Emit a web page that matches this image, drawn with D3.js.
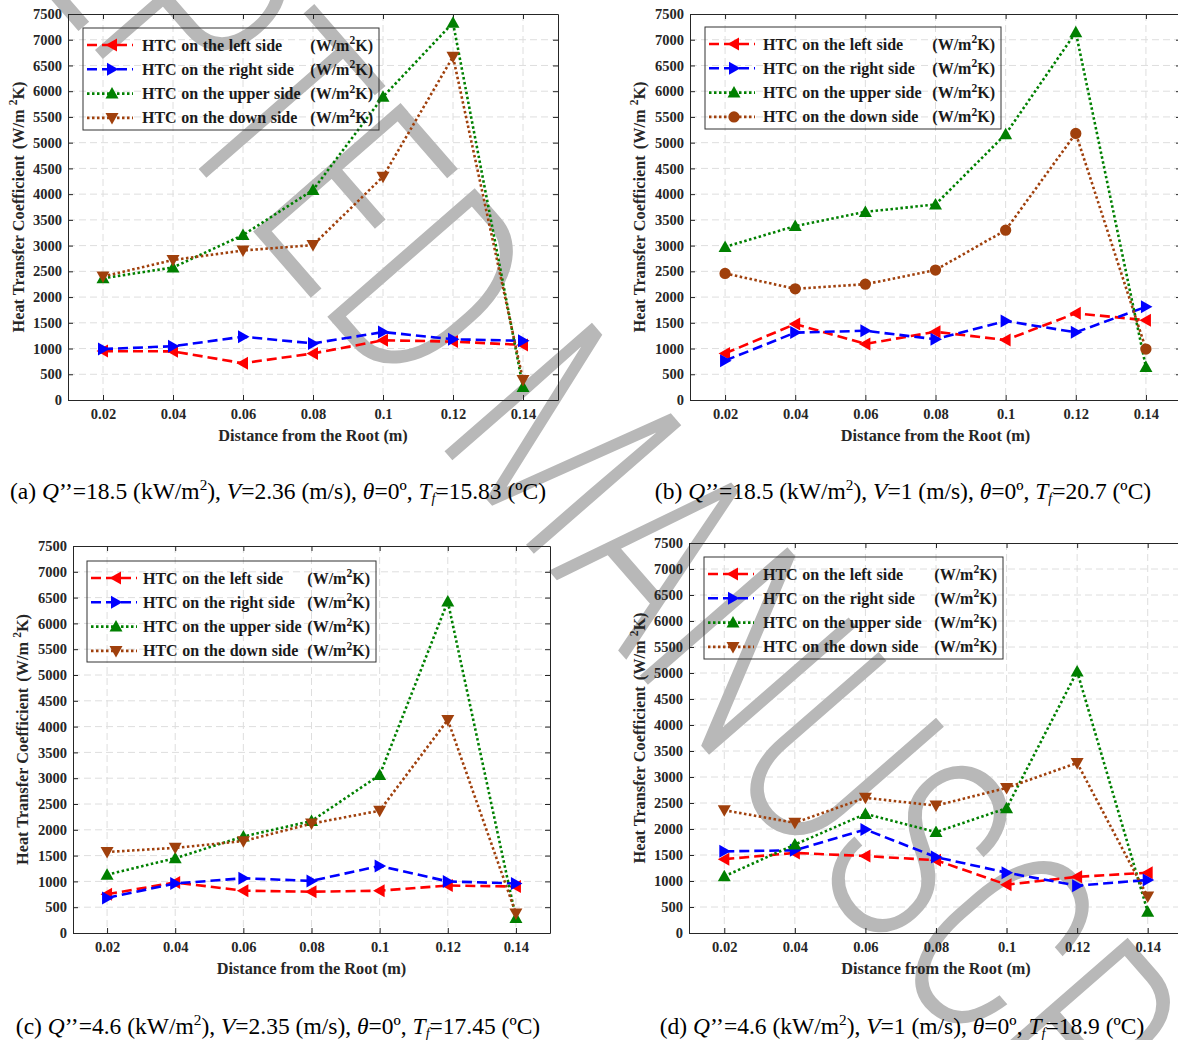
<!DOCTYPE html>
<html>
<head>
<meta charset="utf-8">
<script src="https://cdn.jsdelivr.net/npm/d3@7"></script>
<style>
body { margin: 0; background: #fff; }
text { font-family: "Liberation Serif", "Times New Roman", serif; }
</style>
</head>
<body>
<svg id="fig" width="1178" height="1040"></svg>
<script>
// distances along the fin (m) and tick labels
var distances = [0.02, 0.04, 0.06, 0.08, 0.1, 0.12, 0.14];
var xTickLabels = ["0.02", "0.04", "0.06", "0.08", "0.1", "0.12", "0.14"];
var yTickValues = [0, 500, 1000, 1500, 2000, 2500, 3000, 3500, 4000, 4500, 5000, 5500, 6000, 6500, 7000, 7500];
var seriesNames = ["HTC on the left side", "HTC on the right side", "HTC on the upper side", "HTC on the down side"];

// (a) Q''=18.5, V=2.36
var aLeft  = [950, 945, 715, 905, 1160, 1135, 1070];
var aRight = [990, 1045, 1230, 1100, 1320, 1180, 1150];
var aUpper = [2365, 2575, 3205, 4080, 5890, 7330, 255];
var aDown  = [2400, 2720, 2905, 3010, 4340, 6670, 390];

// (b) Q''=18.5, V=1
var bLeft  = [905, 1475, 1090, 1325, 1165, 1685, 1550];
var bRight = [765, 1310, 1345, 1180, 1535, 1315, 1810];
var bUpper = [2975, 3380, 3655, 3800, 5165, 7145, 640];
var bDown  = [2460, 2160, 2250, 2525, 3300, 5180, 990];

// (c) Q''=4.6, V=2.35
var cLeft  = [750, 980, 820, 800, 820, 920, 900];
var cRight = [680, 960, 1060, 1010, 1300, 1000, 960];
var cUpper = [1130, 1450, 1870, 2170, 3060, 6425, 290];
var cDown  = [1570, 1650, 1780, 2120, 2370, 4130, 380];

// (d) Q''=4.6, V=1
var dLeft  = [1420, 1540, 1480, 1400, 930, 1080, 1160];
var dRight = [1570, 1590, 1990, 1460, 1160, 910, 1020];
var dUpper = [1090, 1700, 2290, 1940, 2400, 5030, 410];
var dDown  = [2360, 2120, 2600, 2450, 2790, 3270, 700];

var captionA = [["(a) "], ["Q", "i"], ["\u2019\u2019=18.5 (kW/m"], ["2", "sup"], ["), "], ["V", "i"], ["=2.36 (m/s), "], ["\u03b8", "i"], ["=0\u00ba, "], ["T", "i"], ["f", "sub"], ["=15.83 (\u00baC)"]];
var captionB = [["(b) "], ["Q", "i"], ["\u2019\u2019=18.5 (kW/m"], ["2", "sup"], ["), "], ["V", "i"], ["=1 (m/s), "], ["\u03b8", "i"], ["=0\u00ba, "], ["T", "i"], ["f", "sub"], ["=20.7 (\u00baC)"]];
var captionC = [["(c) "], ["Q", "i"], ["\u2019\u2019=4.6 (kW/m"], ["2", "sup"], ["), "], ["V", "i"], ["=2.35 (m/s), "], ["\u03b8", "i"], ["=0\u00ba, "], ["T", "i"], ["f", "sub"], ["=17.45 (\u00baC)"]];
var captionD = [["(d) "], ["Q", "i"], ["\u2019\u2019=4.6 (kW/m"], ["2", "sup"], ["), "], ["V", "i"], ["=1 (m/s), "], ["\u03b8", "i"], ["=0\u00ba, "], ["T", "i"], ["f", "sub"], ["=18.9 (\u00baC)"]];

var watermark = "ACCEPTED MANUSCRIPT";

var colors = ["#ff0000", "#0000ff", "#008000", "#a0400c"];
var dashes = ["10,5", "10,5", "2.5,2.5", "2.5,2.5"];
var axisColor = "#262626";

var panels = [
	{x0: 68, x1: 558, y0: 14, y1: 400, lx: 83, ly: 28, lw: 296, lh: 102, tx: 59, ylab: 24, capX: 278, capY: 499,
	 series: [aLeft, aRight, aUpper, aDown], markers: ["left", "right", "up", "down"], caption: captionA},
	{x0: 690, x1: 1181, y0: 14, y1: 400, lx: 705, ly: 27, lw: 296, lh: 102, tx: 58, ylab: 645, capX: 903, capY: 499,
	 series: [bLeft, bRight, bUpper, bDown], markers: ["left", "right", "up", "circle"], caption: captionB},
	{x0: 73, x1: 550, y0: 546, y1: 933, lx: 87, ly: 561, lw: 289, lh: 101, tx: 56, ylab: 28, capX: 278, capY: 1034,
	 series: [cLeft, cRight, cUpper, cDown], markers: ["left", "right", "up", "down"], caption: captionC},
	{x0: 689, x1: 1183, y0: 543, y1: 933, lx: 704, ly: 557, lw: 299, lh: 102, tx: 59, ylab: 645, capX: 902, capY: 1034,
	 series: [dLeft, dRight, dUpper, dDown], markers: ["left", "right", "up", "down"], caption: captionD}
];

var svg = d3.select("#fig");
var gridLayer = svg.append("g");
var wmLayer = svg.append("g");
var frontLayer = svg.append("g");

function markerPath(type) {
	var r = 6.5, b = 5;
	if (type == "left") return "M" + (-r) + ",0L" + b + "," + (-r) + "L" + b + "," + r + "Z";
	if (type == "right") return "M" + r + ",0L" + (-b) + "," + (-r) + "L" + (-b) + "," + r + "Z";
	if (type == "up") return "M0," + (-r) + "L" + (-r) + "," + b + "L" + r + "," + b + "Z";
	if (type == "down") return "M0," + r + "L" + (-r) + "," + (-b) + "L" + r + "," + (-b) + "Z";
	return d3.symbol().type(d3.symbolCircle).size(100)();
}

// write text with italic / super / subscript pieces
function richText(sel, parts, size) {
	var shift = 0;
	parts.forEach(function (p) {
		var t = sel.append("tspan").text(p[0]);
		if (p[1] == "i") t.attr("font-style", "italic");
		if (p[1] == "sup") {
			t.attr("font-size", size * 0.65).attr("dy", -size * 0.4);
			shift = size * 0.4;
		} else if (p[1] == "sub") {
			t.attr("font-size", size * 0.6).attr("font-style", "italic").attr("dy", size * 0.15);
			shift = -size * 0.15;
		} else if (shift) {
			t.attr("dy", shift);
			shift = 0;
		}
	});
}

function unitText(sel, size) {
	sel.append("tspan").text("(W/m");
	sel.append("tspan").text("2").attr("font-size", size * 0.72).attr("dy", -size * 0.4);
	sel.append("tspan").text("K)").attr("dy", size * 0.4);
}

panels.forEach(function (p) {
	var x = d3.scaleLinear().domain([0.01, 0.15]).range([p.x0, p.x1]);
	var y = d3.scaleLinear().domain([0, 7500]).range([p.y1, p.y0]);

	// grid
	var grid = gridLayer.append("g")
		.attr("stroke", "#dedede")
		.attr("stroke-width", 1)
		.attr("stroke-dasharray", "7,4");
	grid.selectAll(".gx").data(distances).enter().append("line")
		.attr("x1", function (d) { return x(d); }).attr("x2", function (d) { return x(d); })
		.attr("y1", p.y0).attr("y2", p.y1);
	grid.selectAll(".gy").data(yTickValues.slice(1, -1)).enter().append("line")
		.attr("y1", function (d) { return y(d); }).attr("y2", function (d) { return y(d); })
		.attr("x1", p.x0).attr("x2", p.x1);

	var g = frontLayer.append("g");

	// axes, ticks pointing inward on all four sides
	var fmtX = function (d, i) { return xTickLabels[i]; };
	g.append("g").attr("transform", "translate(0," + p.y1 + ")")
		.call(d3.axisBottom(x).tickValues(distances).tickFormat(fmtX).tickSizeInner(-5).tickSizeOuter(0).tickPadding(9));
	g.append("g").attr("transform", "translate(0," + p.y0 + ")")
		.call(d3.axisTop(x).tickValues(distances).tickFormat("").tickSizeInner(-5).tickSizeOuter(0));
	g.append("g").attr("transform", "translate(" + p.x0 + ",0)")
		.call(d3.axisLeft(y).tickValues(yTickValues).tickFormat(d3.format("d")).tickSizeInner(-5).tickSizeOuter(0).tickPadding(6));
	g.append("g").attr("transform", "translate(" + p.x1 + ",0)")
		.call(d3.axisRight(y).tickValues(yTickValues).tickFormat("").tickSizeInner(-5).tickSizeOuter(0));
	g.selectAll(".domain, .tick line").attr("stroke", axisColor);
	g.selectAll(".tick text")
		.attr("fill", axisColor)
		.style("font-family", "'Liberation Serif', serif")
		.style("font-weight", "bold")
		.style("font-size", "14.5px");

	// axis titles
	g.append("text")
		.attr("x", x(0.08))
		.attr("y", p.y1 + 41)
		.attr("text-anchor", "middle")
		.attr("font-weight", "bold")
		.attr("font-size", 16.3)
		.attr("fill", axisColor)
		.text("Distance from the Root (m)");
	var yt = g.append("text")
		.attr("transform", "translate(" + p.ylab + "," + ((p.y0 + p.y1) / 2) + ") rotate(-90)")
		.attr("text-anchor", "middle")
		.attr("font-weight", "bold")
		.attr("font-size", 16.3)
		.attr("fill", axisColor);
	yt.append("tspan").text("Heat Transfer Coefficient ");
	yt.append("tspan").attr("dx", 2).text("(W/m ");
	yt.append("tspan").text("2").attr("font-size", 11.5).attr("dy", -7);
	yt.append("tspan").text("K)").attr("dy", 7);

	// series
	var line = d3.line()
		.x(function (d, i) { return x(distances[i]); })
		.y(function (d) { return y(d); });
	p.series.forEach(function (vals, k) {
		g.append("path")
			.datum(vals)
			.attr("d", line)
			.attr("fill", "none")
			.attr("stroke", colors[k])
			.attr("stroke-width", 2.6)
			.attr("stroke-dasharray", dashes[k]);
		g.selectAll(".m" + k).data(vals).enter().append("path")
			.attr("transform", function (d, i) { return "translate(" + x(distances[i]) + "," + y(d) + ")"; })
			.attr("d", markerPath(p.markers[k]))
			.attr("fill", colors[k]);
	});

	// legend
	var lg = g.append("g").attr("transform", "translate(" + p.lx + "," + p.ly + ")");
	lg.append("rect")
		.attr("width", p.lw).attr("height", p.lh)
		.attr("fill", "none")
		.attr("stroke", "#333")
		.attr("stroke-width", 1);
	seriesNames.forEach(function (name, k) {
		var ry = 17 + k * 24.3;
		lg.append("line")
			.attr("x1", 4).attr("x2", 50).attr("y1", ry).attr("y2", ry)
			.attr("stroke", colors[k])
			.attr("stroke-width", 2.6)
			.attr("stroke-dasharray", dashes[k]);
		lg.append("path")
			.attr("transform", "translate(29," + ry + ")")
			.attr("d", markerPath(p.markers[k]))
			.attr("fill", colors[k]);
		lg.append("text")
			.attr("x", p.tx).attr("y", ry + 5.5)
			.attr("font-weight", "bold").attr("font-size", 16).attr("fill", "#1a1a1a")
			.attr("word-spacing", 0.6)
			.text(name);
		var ut = lg.append("text")
			.attr("x", p.lw - 6).attr("y", ry + 5.5)
			.attr("text-anchor", "end")
			.attr("font-weight", "bold").attr("font-size", 16).attr("fill", "#1a1a1a");
		unitText(ut, 16);
	});

	// caption
	var cap = svg.append("text")
		.attr("x", p.capX).attr("y", p.capY)
		.attr("text-anchor", "middle")
		.attr("font-size", 23.5)
		.attr("fill", "#000");
	richText(cap, p.caption, 23.5);
});

// accepted-manuscript watermark: fitted so that "D" and "S" fall where they sit in the scan
var wmD = [432, 288], wmS = [1000, 940];
var wmAngle = Math.atan2(wmS[1] - wmD[1], wmS[0] - wmD[0]);
var wm = wmLayer.append("text")
	.attr("font-size", 275)
	.attr("font-weight", 300)
	.attr("fill", "#b8b8b8")
	.style("font-family", "Roboto, 'DejaVu Sans', sans-serif")
	.text(watermark);
var node = wm.node();
function charCenter(i) {
	var b = node.getExtentOfChar(i);
	return [b.x + b.width / 2, b.y + b.height / 2];
}
var full = node.getComputedTextLength();
var c7 = charCenter(7), c14 = charCenter(14);
var want = Math.hypot(wmS[0] - wmD[0], wmS[1] - wmD[1]);
wm.attr("textLength", full * want / (c14[0] - c7[0])).attr("lengthAdjust", "spacingAndGlyphs");
c7 = charCenter(7);
var capMid = -0.711 * 275 / 2;
var ca = Math.cos(wmAngle), sa = Math.sin(wmAngle);
var tx = wmD[0] - (ca * c7[0] - sa * capMid);
var ty = wmD[1] - (sa * c7[0] + ca * capMid);
wm.attr("transform", "translate(" + tx + "," + ty + ") rotate(" + (wmAngle * 180 / Math.PI) + ")");
</script>
</body>
</html>
